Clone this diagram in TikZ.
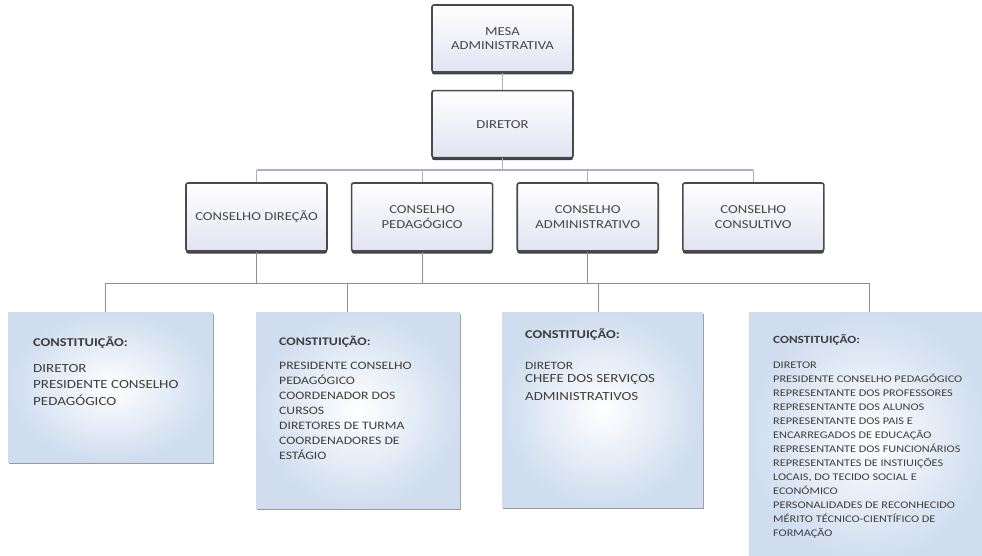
\documentclass[tikz,border=0pt]{standalone}
\usepackage{fontspec}
\setmainfont[FakeStretch=1.2]{Carlito}
\usepackage{xcolor}
\usetikzlibrary{positioning, shadows}

\definecolor{boxedge}{HTML}{4A4A4A}
\definecolor{boxfill}{HTML}{E2E3F2}
\definecolor{panelblue}{HTML}{CFDDEF}
\definecolor{linkgray}{HTML}{8E8E8E}
\definecolor{linkblue}{HTML}{A4B2C4}
\definecolor{txtgray}{HTML}{3E3E3E}

\begin{document}
\begin{tikzpicture}[
  x=1pt, y=-1pt,
  font=\fontsize{12.2}{14.5}\selectfont,
  node distance=17pt and 23pt,
  block/.style={rectangle, draw=boxedge, line width=1.6pt, rounded corners=2pt, top color=white, bottom color=boxfill, text=black!72, align=center, minimum width=141pt, minimum height=67pt, drop shadow={shadow xshift=0pt, shadow yshift=-2.5pt, fill=black!75, opacity=1}},
  panel/.style={rectangle, anchor=north west, inner color=white, outer color=panelblue, drop shadow={shadow xshift=1pt, shadow yshift=-1.5pt, fill=black!40, opacity=1}},
  members/.style={anchor=north west, align=left, inner sep=0pt, text=txtgray},
  line/.style={draw=linkgray, line width=0.9pt},
  bus/.style={draw=linkblue, line width=1.1pt}
]
  \useasboundingbox (0,0) rectangle (982,556);

  % top of the chart
  \node [block] (mesa) at (502.5,38.5) {MESA\\ADMINISTRATIVA};
  \node [block] (diretor) [below=of mesa] {DIRETOR};

  % the four councils
  \node [block, minimum height=68pt] (cdir) at (256.5,217) {CONSELHO DIREÇÃO};
  \node [block, minimum height=68pt] (cped) [right=of cdir] {CONSELHO\\PEDAGÓGICO};
  \node [block, minimum height=68pt] (cadm) [right=of cped] {CONSELHO\\ADMINISTRATIVO};
  \node [block, minimum height=68pt] (ccon) [right=of cadm] {CONSELHO\\CONSULTIVO};

  % panels with the members
  \node [panel, minimum width=205pt, minimum height=150pt] (pdir) at (8,312) {};
  \node [panel, minimum width=204pt, minimum height=196pt] (pped) at (256,312) {};
  \node [panel, minimum width=201pt, minimum height=195pt] (padm) at (502,312) {};
  \node [panel, minimum width=240pt, minimum height=250pt] (pcon) at (749,312) {};

  \node [members, font=\fontsize{12.5}{16.5}\selectfont] (tdir) at (33,337)
    {\textbf{\fontsize{12}{14}\selectfont CONSTITUIÇÃO:}\\[9pt]
     DIRETOR\\PRESIDENTE CONSELHO\\PEDAGÓGICO};
  \node [members, font=\fontsize{11.4}{15}\selectfont] (tped) at (279,336)
    {\textbf{\fontsize{11.6}{14}\selectfont CONSTITUIÇÃO:}\\[9pt]
     PRESIDENTE CONSELHO\\PEDAGÓGICO\\COORDENADOR DOS\\CURSOS\\DIRETORES DE TURMA\\COORDENADORES DE\\ESTÁGIO};
  \node [members, font=\fontsize{11.2}{13.5}\selectfont] (tadm) at (525,329)
    {\textbf{\fontsize{12}{14}\selectfont CONSTITUIÇÃO:}\\[17pt]
     DIRETOR\\
     {\fontsize{12.4}{17.5}\selectfont CHEFE DOS SERVIÇOS}\\[4pt]
     {\fontsize{12.4}{17.5}\selectfont ADMINISTRATIVOS}};
  \node [members, font=\fontsize{10.2}{14}\selectfont] (tcon) at (773,334)
    {\textbf{\fontsize{11}{13}\selectfont CONSTITUIÇÃO:}\\[11pt]
     DIRETOR\\PRESIDENTE CONSELHO PEDAGÓGICO\\REPRESENTANTE DOS PROFESSORES\\
     REPRESENTANTE DOS ALUNOS\\REPRESENTANTE DOS PAIS E\\ENCARREGADOS DE EDUCAÇÃO\\
     REPRESENTANTE DOS FUNCIONÁRIOS\\REPRESENTANTES DE INSTIUIÇÕES\\
     LOCAIS, DO TECIDO SOCIAL E\\ECONÓMICO\\PERSONALIDADES DE RECONHECIDO\\
     MÉRITO TÉCNICO-CIENTÍFICO DE\\FORMAÇÃO};

  % upper connectors
  \coordinate (busA) at (0,170);
  \draw [bus] (mesa) -- (diretor);
  \draw [bus] (diretor) -- (diretor.south |- busA);
  \draw [bus] (cdir.north |- busA) -- (ccon.north |- busA);
  \foreach \c in {cdir,cped,cadm,ccon}
    \draw [bus] (\c.north |- busA) -- (\c);

  % lower connectors
  \coordinate (busB) at (0,283);
  \coordinate (jdir) at (105,283);
  \coordinate (jped) at (347,283);
  \coordinate (jadm) at (598,283);
  \coordinate (jcon) at (869,283);
  \foreach \c in {cdir,cped,cadm}
    \draw [line] (\c) -- (\c.south |- busB);
  \draw [line] (jdir) -- (jcon);
  \foreach \j/\p in {jdir/pdir, jped/pped, jadm/padm, jcon/pcon}
    \draw [line] (\j) -- (\j |- \p.north);
\end{tikzpicture}
\end{document}
